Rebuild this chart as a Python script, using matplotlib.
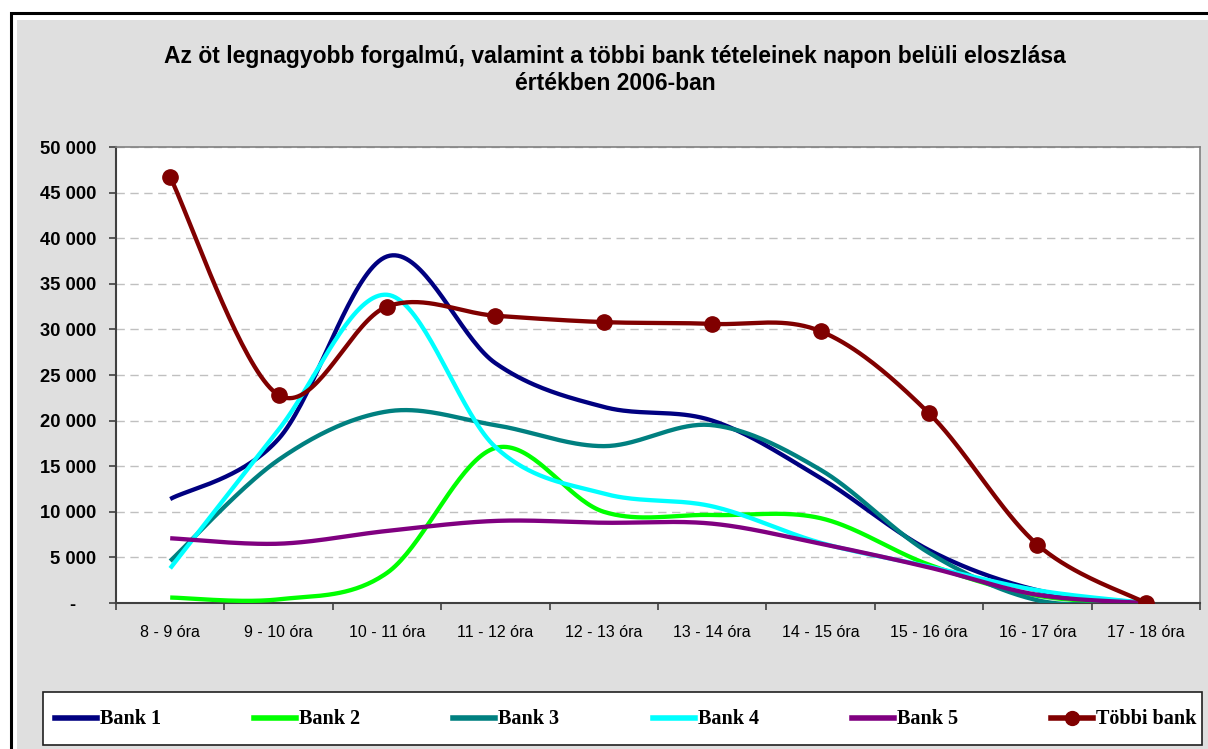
import matplotlib.pyplot as plt
from matplotlib.lines import Line2D
from matplotlib.patches import Rectangle
import numpy as np

categories = ['8 - 9 óra', '9 - 10 óra', '10 - 11 óra', '11 - 12 óra', '12 - 13 óra',
              '13 - 14 óra', '14 - 15 óra', '15 - 16 óra', '16 - 17 óra', '17 - 18 óra']
bank1 = [11400, 18000, 38000, 26300, 21500, 20000, 13700, 5800, 1400, 0]
bank2 = [600, 400, 3300, 17000, 10000, 9650, 9300, 4200, 800, 0]
bank3 = [4600, 15700, 21000, 19500, 17200, 19500, 14600, 5500, 300, 0]
bank4 = [3800, 19000, 33800, 17100, 12000, 10600, 6600, 4000, 1400, 0]
bank5 = [7100, 6500, 7900, 9000, 8800, 8700, 6500, 3900, 900, 0]
tobbi = [46700, 22800, 32500, 31500, 30800, 30600, 29800, 20800, 6400, 0]

series = [('Bank 1', bank1, '#000080'), ('Bank 2', bank2, '#00ff00'),
          ('Bank 3', bank3, '#008080'), ('Bank 4', bank4, '#00ffff'),
          ('Bank 5', bank5, '#800080'), ('Többi bank', tobbi, '#800000')]


def smooth(x, y, n=40):
    # excel-like smoothed line: cubic bezier with catmull-rom tangents
    x = np.asarray(x, float)
    y = np.asarray(y, float)
    px = np.concatenate([[x[0]], x, [x[-1]]])
    py = np.concatenate([[y[0]], y, [y[-1]]])
    t = np.linspace(0, 1, n)
    xs, ys = [], []
    for i in range(len(x) - 1):
        p0 = np.array([px[i], py[i]])
        p1 = np.array([px[i + 1], py[i + 1]])
        p2 = np.array([px[i + 2], py[i + 2]])
        p3 = np.array([px[i + 3], py[i + 3]])
        c1 = p1 + (p2 - p0) / 6
        c2 = p2 - (p3 - p1) / 6
        b = (np.outer((1 - t) ** 3, p1) + np.outer(3 * (1 - t) ** 2 * t, c1)
             + np.outer(3 * (1 - t) * t ** 2, c2) + np.outer(t ** 3, p2))
        xs.append(b[:, 0])
        ys.append(b[:, 1])
    return np.concatenate(xs), np.concatenate(ys)


fig = plt.figure(figsize=(12.08, 7.49), dpi=100)
W, H = 1208, 749


def fx(px):
    return px / W


def fy(py):
    return 1 - py / H


# background panel and border
fig.patches.append(Rectangle((fx(17), fy(749)), fx(1200), fy(20) - fy(749),
                             transform=fig.transFigure, facecolor='#dfdfdf', edgecolor='none', zorder=0))
fig.patches.append(Rectangle((fx(11), fy(760)), fx(1210), fy(13) - fy(760),
                             transform=fig.transFigure, facecolor='none', edgecolor='black', lw=2.2, zorder=1))

ax = fig.add_axes([fx(116), fy(603), fx(1200) - fx(116), fy(147) - fy(603)], zorder=5)
ax.set_facecolor('white')
x = np.arange(len(categories))
for name, vals, col in series:
    sx, sy = smooth(x, vals)
    ax.plot(sx, sy, color=col, lw=3.1, solid_capstyle='butt', zorder=3)
ax.plot(x, tobbi, 'o', color='#800000', ms=11, zorder=4)

ax.set_xlim(-0.5, len(categories) - 0.5)
ax.set_ylim(0, 50000)
ax.set_yticks(np.arange(0, 50001, 5000))
ax.set_yticklabels(['-    '] + ['{:,}'.format(v).replace(',', ' ') for v in range(5000, 50001, 5000)],
                   fontsize=13.2, fontweight='bold', family='Liberation Sans')
ax.set_xticks(np.arange(-0.5, len(categories), 1.0))
ax.set_xticklabels([])
ax.set_xticks(x, minor=True)
ax.set_xticklabels(categories, minor=True, fontsize=11.5, family='Liberation Sans')
ax.tick_params(axis='x', which='minor', length=0, pad=16)
ax.tick_params(axis='x', which='major', length=5, width=1.2, color='#404040', direction='out')
ax.tick_params(axis='y', length=5, width=1.2, color='#404040', direction='out', pad=9)
ax.grid(axis='y', color='#c0c0c0', ls=(0, (6, 4)), lw=1)
ax.set_axisbelow(True)
for s in ['left', 'bottom']:
    ax.spines[s].set_color('#404040')
    ax.spines[s].set_linewidth(1.5)
for s in ['top', 'right']:
    ax.spines[s].set_color('#808080')
    ax.spines[s].set_linewidth(1.2)

fig.text(fx(615), fy(56), 'Az öt legnagyobb forgalmú, valamint a többi bank tételeinek napon belüli eloszlása',
         ha='center', va='center', fontsize=16.5, fontweight='bold', family='Liberation Sans')
fig.text(fx(615), fy(84), 'értékben 2006-ban',
         ha='center', va='center', fontsize=16.5, fontweight='bold', family='Liberation Sans')

# legend
fig.patches.append(Rectangle((fx(43), fy(745)), fx(1202) - fx(43), fy(692) - fy(745),
                             transform=fig.transFigure, facecolor='white', edgecolor='#202020', lw=1.2, zorder=2))
for i, (name, vals, col) in enumerate(series):
    x0 = 55 + i * 199.2
    ly = fy(718)
    fig.lines.append(Line2D([fx(x0), fx(x0 + 42)], [ly, ly], transform=fig.transFigure,
                            color=col, lw=4, zorder=3))
    if name == 'Többi bank':
        fig.lines.append(Line2D([fx(x0 + 21)], [ly], transform=fig.transFigure, marker='o',
                                color=col, ms=10, zorder=4))
    fig.text(fx(x0 + 45), fy(719), name, ha='left', va='center', fontsize=14.5, fontweight='bold',
             family='Liberation Serif', zorder=5)

fig.savefig('out.png', dpi=100, facecolor='white')
